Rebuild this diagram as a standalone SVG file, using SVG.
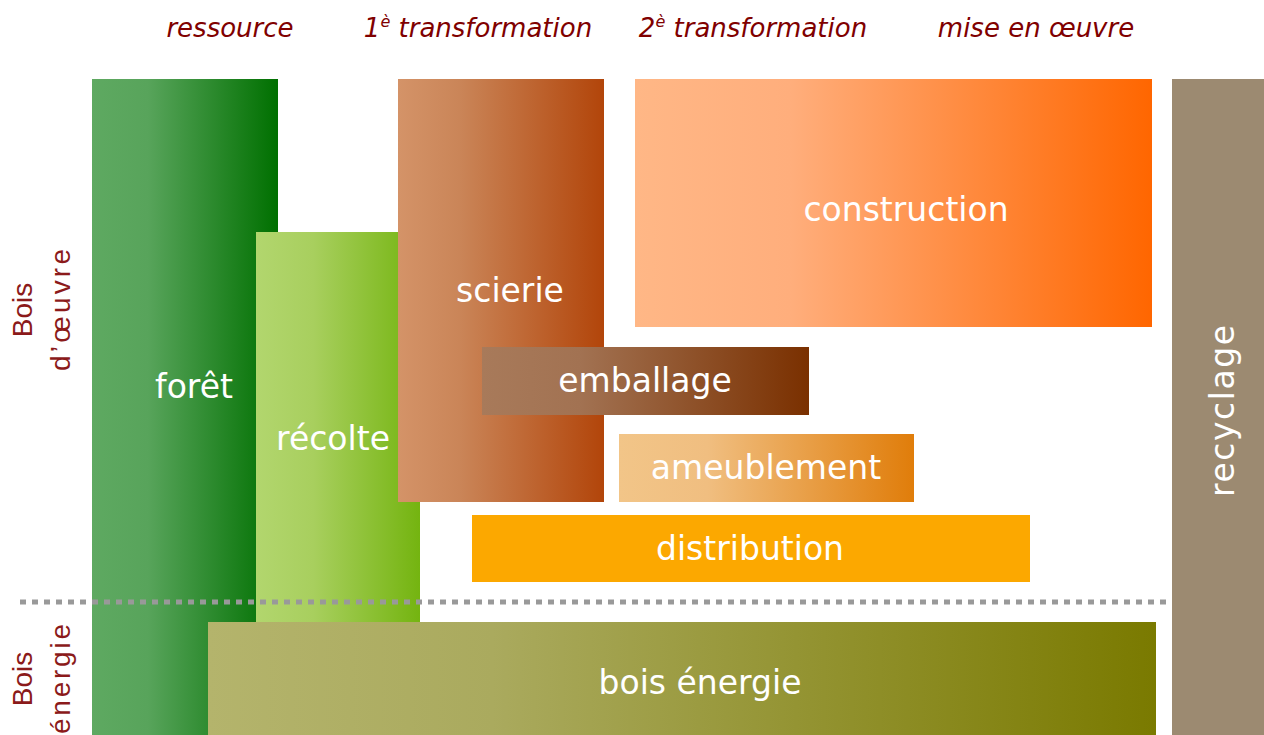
<svg xmlns="http://www.w3.org/2000/svg" width="1264" height="735" viewBox="0 0 1264 735">
<defs>
<linearGradient id="gForet" x1="0" y1="0" x2="1" y2="0"><stop offset="0" stop-color="#5ea961"/><stop offset="0.3" stop-color="#58a45b"/><stop offset="1" stop-color="#007000"/></linearGradient>
<linearGradient id="gRecolte" x1="0" y1="0" x2="1" y2="0"><stop offset="0" stop-color="#b2d66e"/><stop offset="0.35" stop-color="#a8cf5e"/><stop offset="1" stop-color="#74b410"/></linearGradient>
<linearGradient id="gScierie" x1="0" y1="0" x2="1" y2="0"><stop offset="0" stop-color="#d49368"/><stop offset="0.3" stop-color="#ca8558"/><stop offset="1" stop-color="#b2450a"/></linearGradient>
<linearGradient id="gConstr" x1="0" y1="0" x2="1" y2="0"><stop offset="0" stop-color="#ffb786"/><stop offset="0.3" stop-color="#ffae7c"/><stop offset="1" stop-color="#ff6600"/></linearGradient>
<linearGradient id="gEmb" x1="0" y1="0" x2="1" y2="0"><stop offset="0" stop-color="#a87a5a"/><stop offset="0.3" stop-color="#a27252"/><stop offset="1" stop-color="#7a3000"/></linearGradient>
<linearGradient id="gAmeu" x1="0" y1="0" x2="1" y2="0"><stop offset="0" stop-color="#f2c588"/><stop offset="0.3" stop-color="#f0be80"/><stop offset="1" stop-color="#e07d0a"/></linearGradient>
<linearGradient id="gEnergie" x1="0" y1="0" x2="1" y2="0"><stop offset="0" stop-color="#b4b46c"/><stop offset="0.3" stop-color="#aaaa5e"/><stop offset="1" stop-color="#7a7a00"/></linearGradient>
</defs>
<style>
.hdr{font-family:"DejaVu Sans","Liberation Sans",sans-serif;font-style:italic;font-size:26px;fill:#800000;text-anchor:middle}
.side{font-family:"Liberation Sans","DejaVu Sans",sans-serif;font-size:28px;fill:#8b1a1a;text-anchor:middle}
.lbl{font-family:"DejaVu Sans","Liberation Sans",sans-serif;font-size:33px;fill:#ffffff;text-anchor:middle;dominant-baseline:central}
.sep{stroke:#999999;stroke-width:5;stroke-dasharray:6 6;fill:none}
</style>
<rect width="1264" height="735" fill="#ffffff"/>
<g id="headers">
<text class="hdr" x="230" y="37">ressource</text>
<text class="hdr" x="478" y="37">1<tspan font-size="16" dy="-10">è</tspan><tspan dy="10"> transformation</tspan></text>
<text class="hdr" x="753" y="37">2<tspan font-size="16" dy="-10">è</tspan><tspan dy="10"> transformation</tspan></text>
<text class="hdr" x="1036" y="37">mise en œuvre</text>
</g>
<g id="side-labels">
<text class="side" transform="translate(32,310) rotate(-90)">Bois</text>
<text class="side" transform="translate(70,310) rotate(-90)" textLength="122" lengthAdjust="spacing">d’œuvre</text>
<text class="side" transform="translate(32,679) rotate(-90)">Bois</text>
<text class="side" transform="translate(70,679) rotate(-90)" textLength="110" lengthAdjust="spacing">énergie</text>
</g>
<g id="foret"><rect x="92" y="79" width="186" height="656" fill="url(#gForet)"/><text class="lbl" x="194" y="386">forêt</text></g>
<g id="recolte"><rect x="256" y="232" width="164" height="390" fill="url(#gRecolte)"/><text class="lbl" x="333" y="438">récolte</text></g>
<g id="scierie"><rect x="398" y="79" width="206" height="423" fill="url(#gScierie)"/><text class="lbl" x="510" y="290">scierie</text></g>
<g id="construction"><rect x="635" y="79" width="517" height="248" fill="url(#gConstr)"/><text class="lbl" x="906" y="209">construction</text></g>
<g id="emballage"><rect x="482" y="347" width="327" height="68" fill="url(#gEmb)"/><text class="lbl" x="645" y="380">emballage</text></g>
<g id="ameublement"><rect x="619" y="434" width="295" height="68" fill="url(#gAmeu)"/><text class="lbl" x="766" y="467">ameublement</text></g>
<g id="distribution"><rect x="472" y="515" width="558" height="67" fill="#fca800"/><text class="lbl" x="750" y="548">distribution</text></g>
<g id="bois-energie"><rect x="208" y="622" width="948" height="113" fill="url(#gEnergie)"/><text class="lbl" x="700" y="682">bois énergie</text></g>
<g id="recyclage"><rect x="1172" y="79" width="92" height="656" fill="#9c8a71"/><text class="lbl" transform="translate(1222,411) rotate(-90)" font-size="34" textLength="172" lengthAdjust="spacing">recyclage</text></g>
<g id="connectors">
<line class="sep" x1="20" y1="602" x2="1166" y2="602"/>
</g>
</svg>
